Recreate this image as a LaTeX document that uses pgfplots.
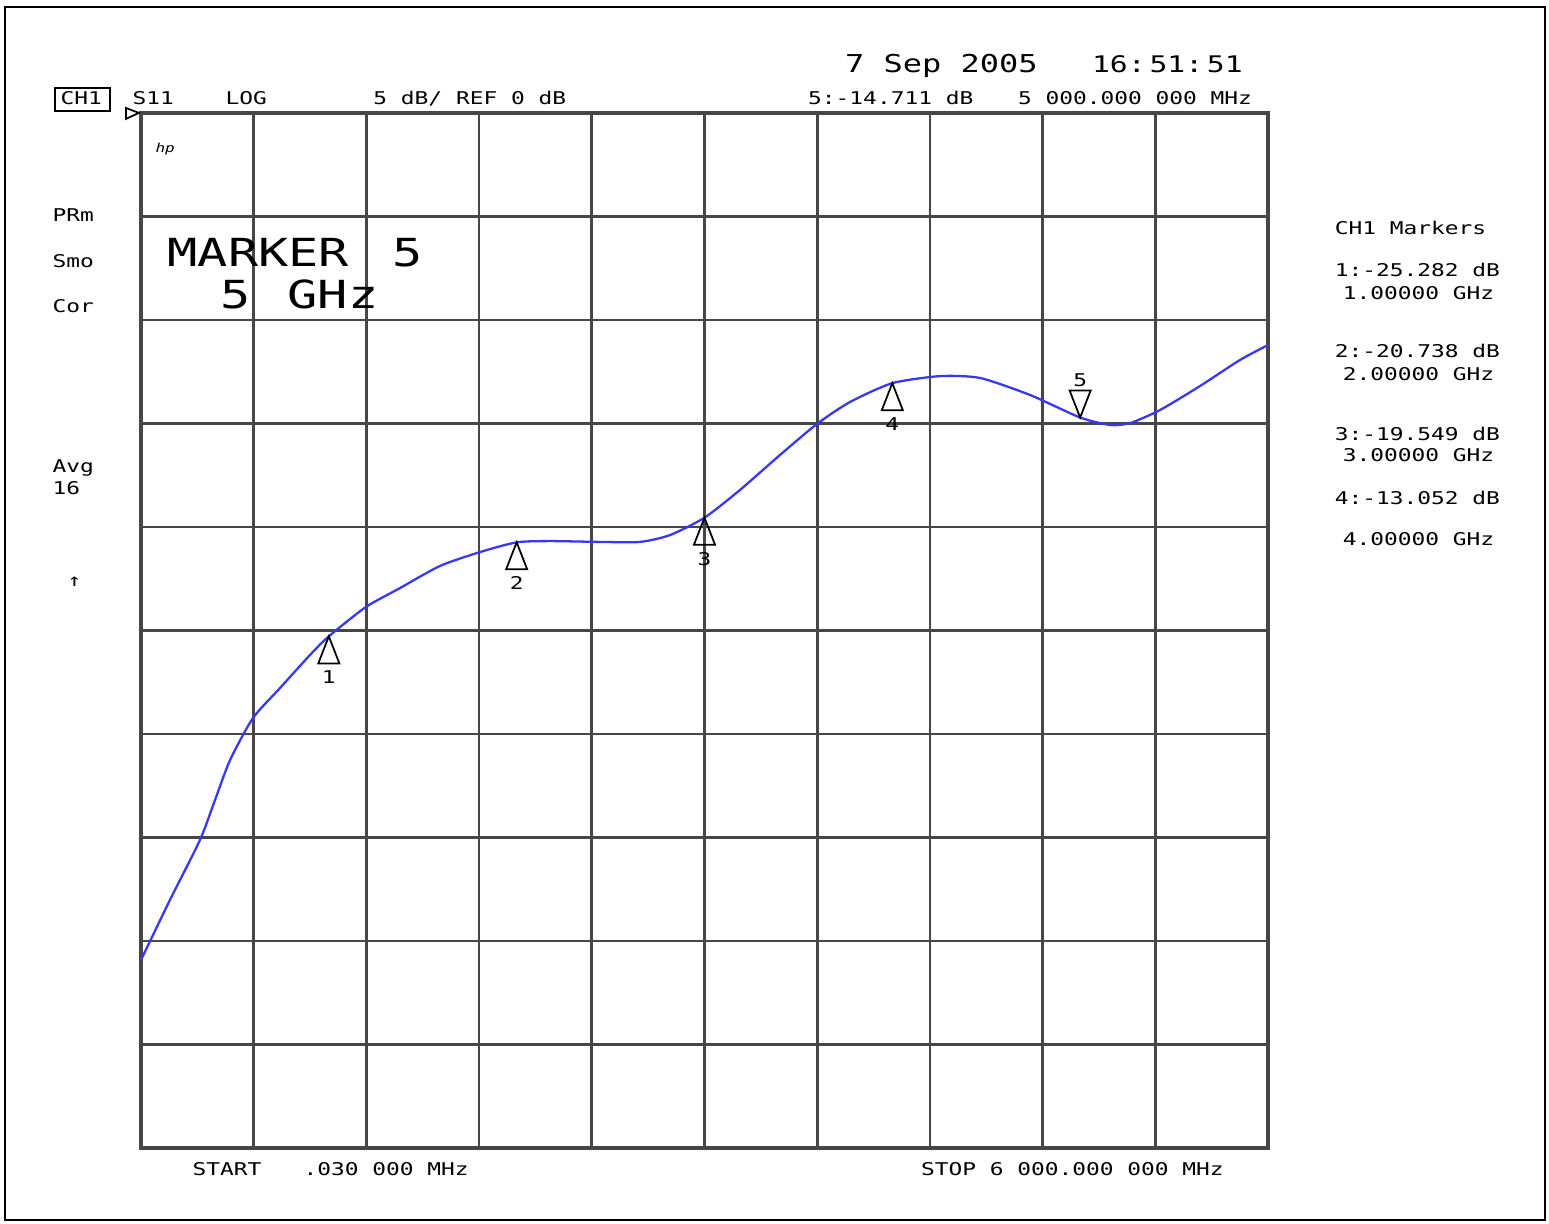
\documentclass[border=0pt]{standalone}
\usepackage{pgfplots}
\pgfplotsset{compat=1.18}
\usepackage{fontspec}
\newfontfamily\hp[FakeStretch=1.3]{DejaVu Sans Mono}
\definecolor{gridc}{RGB}{70,70,70}
\definecolor{trace}{RGB}{55,55,245}

% marker shapes of the analyser: tip on the trace
\pgfdeclareplotmark{hpup}{%
  \pgfpathmoveto{\pgfpoint{0pt}{0pt}}%
  \pgfpathlineto{\pgfpoint{-3pt}{-7.7pt}}%
  \pgfpathlineto{\pgfpoint{3pt}{-7.7pt}}%
  \pgfpathclose\pgfusepathqstroke}
\pgfdeclareplotmark{hpdown}{%
  \pgfpathmoveto{\pgfpoint{0pt}{0pt}}%
  \pgfpathlineto{\pgfpoint{-3pt}{7.7pt}}%
  \pgfpathlineto{\pgfpoint{3pt}{7.7pt}}%
  \pgfpathclose\pgfusepathqstroke}

\begin{document}
\begin{tikzpicture}
\useasboundingbox (0,0) rectangle (15.49,-12.24);
\draw[line width=0.6pt] (0.05,-0.07) rectangle (15.45,-12.2);

\begin{axis}[
scale only axis,
width=11.27cm, height=10.35cm,
at={(1.41cm,-11.48cm)}, anchor=south west,
xmin=0, xmax=6, ymin=-50, ymax=0,
xtick={0.6,1.2,1.8,2.4,3,3.6,4.2,4.8,5.4},
ytick={-45,-40,-35,-30,-25,-20,-15,-10,-5},
xticklabels={}, yticklabels={},
major tick length=0pt,
grid=major,
grid style={gridc, line width=0.75pt},
axis line style={gridc, line width=0.9pt},
clip=false,
]

% S11 trace
\addplot[trace, line width=0.65pt, smooth, tension=0.4] coordinates {
(0.000,-40.92) (0.154,-38.02) (0.314,-35.12) (0.394,-33.19) (0.474,-31.26)
(0.596,-29.23) (0.740,-27.78) (0.900,-26.18) (1.000,-25.28) (1.198,-23.86)
(1.379,-22.95) (1.592,-21.88) (1.805,-21.21) (2.000,-20.74) (2.178,-20.68)
(2.444,-20.72) (2.657,-20.72) (2.816,-20.39) (3.000,-19.55) (3.189,-18.21)
(3.402,-16.52) (3.599,-15.02) (3.775,-13.96) (4.000,-13.05) (4.254,-12.71)
(4.467,-12.80) (4.733,-13.62) (5.000,-14.71) (5.160,-15.07) (5.266,-14.98)
(5.425,-14.35) (5.638,-13.19) (5.851,-11.93) (6.000,-11.21)
};

% markers 1-4
\addplot[only marks, mark=hpup, mark options={black, line width=0.5pt},
  nodes near coords, point meta=explicit symbolic,
  every node near coord/.style={anchor=center, yshift=-11.7pt, font=\hp\fontsize{5}{6}\selectfont}]
coordinates {(1,-25.282)[1] (2,-20.738)[2] (3,-19.549)[3] (4,-13.052)[4]};

% active marker 5
\addplot[only marks, mark=hpdown, mark options={black, line width=0.5pt},
  nodes near coords, point meta=explicit symbolic,
  every node near coord/.style={anchor=center, yshift=10.5pt, font=\hp\fontsize{5}{6}\selectfont}]
coordinates {(5,-14.711)[5]};
\end{axis}

\begin{scope}[x=0.01cm, y=-0.01cm, every node/.style={inner sep=0pt, anchor=base west}]
\def\sm{\hp\fontsize{5}{6}\selectfont}
% header
\node[font=\hp\fontsize{7}{8}\selectfont] at (845,73) {7 Sep 2005};
\node[font=\hp\fontsize{6.5}{7}\selectfont] at (1092,73) {16:\,51:\,51};
\node[font=\sm] at (60,105) {CH1};
\draw[line width=0.6pt] (55,88) rectangle (110,111);
\node[font=\sm] at (132,105) {S11};
\node[font=\sm] at (225,105) {LOG};
\node[font=\sm] at (373,105) {5 dB/ REF 0 dB};
\node[font=\sm] at (808,105) {5:-14.711 dB};
\node[font=\sm] at (1018,105) {5 000.000 000 MHz};
% reference position
\draw[line width=0.5pt] (126,108) -- (139,113) -- (126,119) -- cycle;
\node[font=\hp\fontsize{3.5}{4}\selectfont\itshape] at (155,153) {hp};
% left status
\node[font=\sm] at (52,222) {PRm};
\node[font=\sm] at (52,268) {Smo};
\node[font=\sm] at (52,313) {Cor};
\node[font=\sm] at (52,473) {Avg};
\node[font=\sm] at (52,495) {16};
\node[font=\sm] at (67,587) {↑};
% marker annotation
\node[font=\hp\fontsize{11}{12}\selectfont] at (167,267) {MARKER};
\node[font=\hp\fontsize{11}{12}\selectfont] at (392,267) {5};
\node[font=\hp\fontsize{11}{12}\selectfont] at (220,309) {5};
\node[font=\hp\fontsize{11}{12}\selectfont] at (287,309) {GHz};
% marker table
\node[font=\sm] at (1335,235) {CH1 Markers};
\node[font=\sm] at (1335,277) {1:-25.282 dB};
\node[font=\sm] at (1343,300) {1.00000 GHz};
\node[font=\sm] at (1335,358) {2:-20.738 dB};
\node[font=\sm] at (1343,381) {2.00000 GHz};
\node[font=\sm] at (1335,441) {3:-19.549 dB};
\node[font=\sm] at (1343,462) {3.00000 GHz};
\node[font=\sm] at (1335,505) {4:-13.052 dB};
\node[font=\sm] at (1343,546) {4.00000 GHz};
% sweep
\node[font=\sm] at (192,1176) {START};
\node[font=\sm] at (303,1176) {.030 000 MHz};
\node[font=\sm] at (921,1176) {STOP 6 000.000 000 MHz};
\end{scope}
\end{tikzpicture}
\end{document}
